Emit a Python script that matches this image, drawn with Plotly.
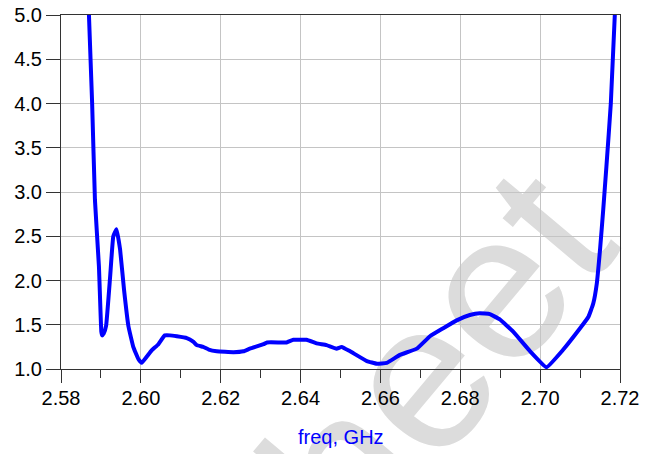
import plotly.graph_objects as go

freq_ghz = [2.5870, 2.5878, 2.5885, 2.5895, 2.5901, 2.5903, 2.5907, 2.5913, 2.5923,
            2.5931, 2.5939, 2.5948, 2.5958, 2.5969, 2.5981, 2.5994, 2.6002, 2.6015,
            2.6027, 2.6044, 2.6060, 2.6073, 2.6090, 2.6115, 2.6131, 2.6140, 2.6156,
            2.6170, 2.6190, 2.6232, 2.6257, 2.6273, 2.6307, 2.6316, 2.6348, 2.6365,
            2.6382, 2.6415, 2.6440, 2.6465, 2.6490, 2.6503, 2.6524, 2.6566, 2.6591,
            2.6616, 2.6649, 2.6691, 2.6724, 2.6757, 2.6791, 2.6824, 2.6849, 2.6874,
            2.6899, 2.6933, 2.6975, 2.7016, 2.7058, 2.7100, 2.7121, 2.7133, 2.7142,
            2.7150, 2.7158, 2.7166, 2.7177, 2.7187]
vswr = [5.00, 4.00, 2.91, 2.16, 1.42, 1.38, 1.40, 1.49, 2.04,
        2.50, 2.58, 2.35, 1.89, 1.48, 1.25, 1.11, 1.07, 1.14,
        1.21, 1.28, 1.38, 1.38, 1.37, 1.35, 1.31, 1.27, 1.25,
        1.22, 1.20, 1.19, 1.20, 1.23, 1.28, 1.30, 1.30, 1.30,
        1.33, 1.33, 1.29, 1.27, 1.23, 1.25, 1.20, 1.09, 1.06,
        1.07, 1.16, 1.23, 1.37, 1.46, 1.55, 1.61, 1.63, 1.62,
        1.56, 1.42, 1.20, 1.02, 1.22, 1.46, 1.59, 1.74, 1.97,
        2.35, 2.80, 3.29, 4.00, 5.00]

x_ticks = [2.58, 2.60, 2.62, 2.64, 2.66, 2.68, 2.70, 2.72]
y_ticks = [1.0, 1.5, 2.0, 2.5, 3.0, 3.5, 4.0, 4.5, 5.0]

FONT = "Liberation Sans, Arial, sans-serif"
AXIS = "#333333"
GRID = "#c4c4c4"

fig = go.Figure()
fig.add_trace(go.Scatter(x=freq_ghz, y=vswr, mode="lines",
                         line=dict(color="#0000ff", width=4, shape="spline", smoothing=0.3),
                         hoverinfo="skip", showlegend=False))

# light grey watermark behind the grid
fig.add_shape(type="rect", xref="paper", yref="paper",
              x0=0.555, x1=0.571, y0=-0.089, y1=-0.075,
              line=dict(width=0), fillcolor="rgba(0,0,0,0)", layer="below",
              label=dict(text="Sheet", textangle=-50, textposition="middle center",
                         font=dict(size=210, color="#dcdcdc", family=FONT)))

fig.add_annotation(text="freq, GHz", xref="paper", yref="paper", x=0.5, y=-0.192,
                   xanchor="center", yanchor="middle", showarrow=False,
                   font=dict(size=20, color="#0000ff", family=FONT))

fig.update_xaxes(range=[2.58, 2.72], tickvals=x_ticks, tickformat=".2f", automargin=False,
                 ticks="outside", ticklen=13, tickcolor=AXIS, tickwidth=1,
                 ticklabelstandoff=-2, ticklabeloverflow="allow",
                 showline=True, linecolor=AXIS, linewidth=1, mirror=True,
                 showgrid=True, gridcolor=GRID, gridwidth=1, zeroline=False,
                 tickfont=dict(size=20, color="#000000", family=FONT),
                 minor=dict(dtick=0.01, ticks="outside", ticklen=8, tickcolor=AXIS,
                            showgrid=False))
fig.update_yaxes(range=[1.0, 5.0], tickvals=y_ticks, tickformat=".1f", automargin=False,
                 ticks="outside", ticklen=14, tickcolor=AXIS, tickwidth=1,
                 ticklabeloverflow="allow",
                 showline=True, linecolor=AXIS, linewidth=1, mirror=True,
                 showgrid=True, gridcolor=GRID, gridwidth=1, zeroline=False,
                 tickfont=dict(size=20, color="#000000", family=FONT))

fig.update_layout(width=649, height=446,
                  margin=dict(l=53, r=37, t=7, b=85, autoexpand=False),
                  paper_bgcolor="white", plot_bgcolor="rgba(0,0,0,0)",
                  font=dict(family=FONT))

fig.write_html("out.html")
